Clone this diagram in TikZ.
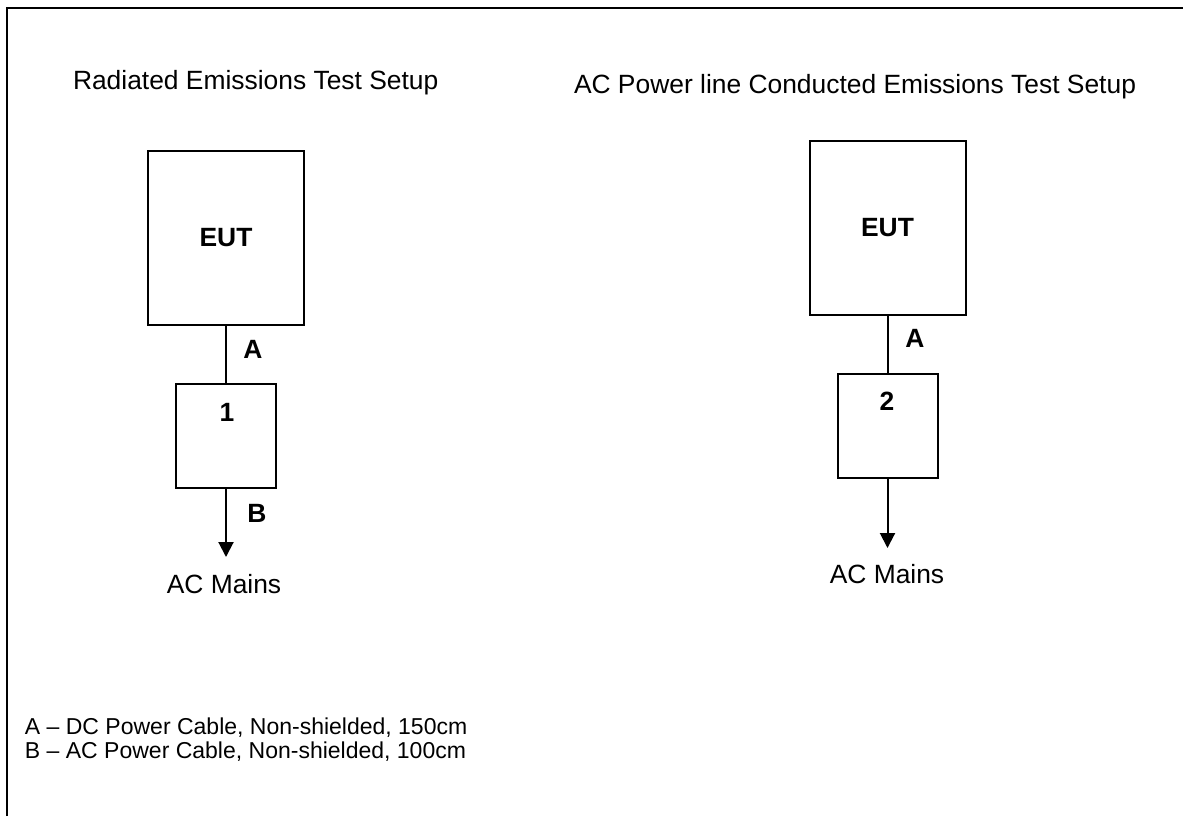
\documentclass[tikz,border=0pt]{standalone}
\usepackage{fontspec}
\setmainfont{Liberation Sans}
\usetikzlibrary{arrows.meta}

\begin{document}
\begin{tikzpicture}[x=0.5pt, y=-0.5pt, line width=1pt,
    every node/.style={font=\fontsize{13.2}{15}\selectfont, inner sep=0pt},
    eutbox/.style={draw, minimum width=78pt, minimum height=87pt, font=\fontsize{13.2}{15}\selectfont\bfseries},
    unitbox/.style={draw, minimum width=50pt, minimum height=52pt},
    cabletag/.style={anchor=base, font=\fontsize{13.2}{15}\selectfont\bfseries},
    legendline/.style={anchor=base west, font=\fontsize{11.5}{13}\selectfont},
    feed/.style={-{Triangle[width=7.5pt, length=7.5pt]}}]
            \useasboundingbox (0,0) rectangle (1183,816);
            \draw (7,816) -- (7,8) -- (1183,8);
            % radiated setup
            \node[anchor=base west] (titleRad) at (72,89) {Radiated Emissions Test Setup};
            \node[eutbox] (eutRad) at (226,238) {EUT};
            \node[unitbox] (unitOne) at (226,436) {};
            \node[cabletag] (tagOne) at (227,421) {1};
            \node[cabletag] (cableARad) at (253,358) {A};
            \node[cabletag] (cableB) at (257,522) {B};
            \coordinate (tipRad) at (226,557);
            \node[anchor=base] (mainsRad) at (224,593) {AC Mains};
            \draw (eutRad.south) -- (unitOne.north);
            \draw[feed] (unitOne.south) -- (tipRad);
            % conducted setup
            \node[anchor=base west] (titleCond) at (573,93) {AC Power line Conducted Emissions Test Setup};
            \node[eutbox] (eutCond) at (887.5,228) {EUT};
            \node[unitbox] (unitTwo) at (887.5,426) {};
            \node[cabletag] (tagTwo) at (887,410) {2};
            \node[cabletag] (cableACond) at (915,347) {A};
            \coordinate (tipCond) at (887.5,548);
            \node[anchor=base] (mainsCond) at (887,583) {AC Mains};
            \draw (eutCond.south) -- (unitTwo.north);
            \draw[feed] (unitTwo.south) -- (tipCond);
            % legend
            \node[legendline] (legendA) at (24,734) {A – DC Power Cable, Non-shielded, 150cm};
            \node[legendline] (legendB) at (24,758) {B – AC Power Cable, Non-shielded, 100cm};
        \end{tikzpicture}
\end{document}
